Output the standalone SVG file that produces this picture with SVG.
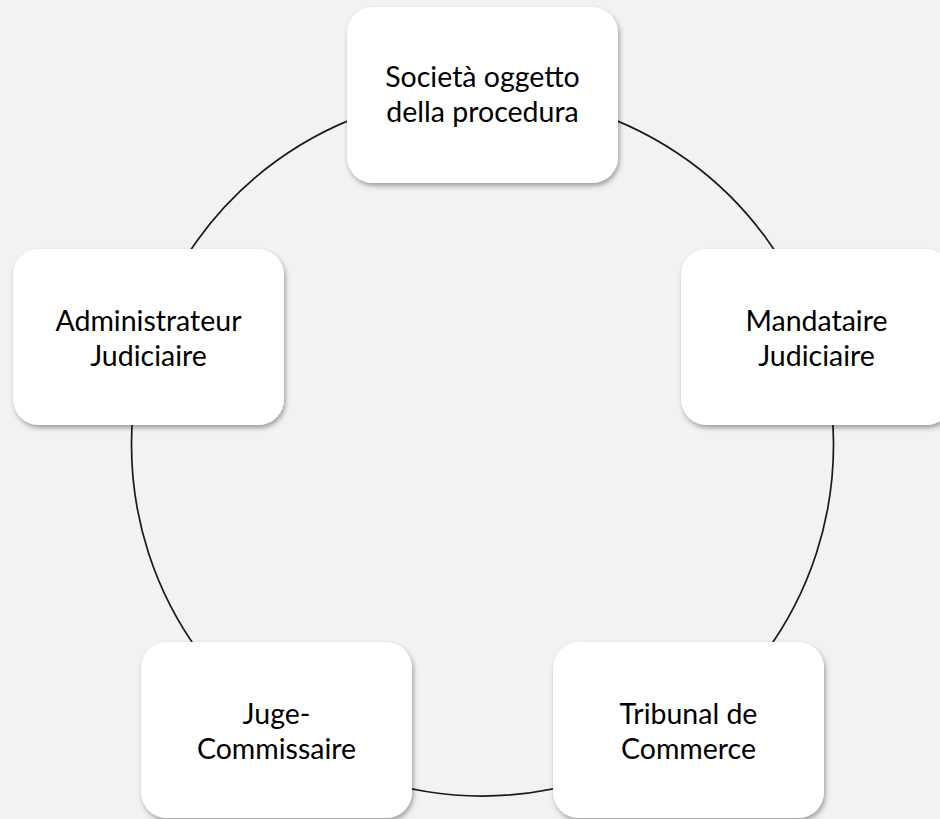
<svg xmlns="http://www.w3.org/2000/svg" width="940" height="819" viewBox="0 0 940 819">
  <defs>
    <filter id="shadow" x="-10%" y="-10%" width="125%" height="130%">
      <feDropShadow dx="1.5" dy="3" stdDeviation="2.5" flood-color="#000" flood-opacity="0.35"/>
    </filter>
  </defs>
  <style>
    .box { fill: #ffffff; filter: url(#shadow); }
    .label { font-family: Lato, "Open Sans", "Liberation Sans", sans-serif; font-size: 28.5px; fill: #000; text-anchor: middle; }
    .arc { fill: none; stroke: #1a1a1a; stroke-width: 1.7; }
  </style>
  <rect width="940" height="819" fill="#f2f2f2"/>

  <!-- cycle arcs, circle centre (482.5,445) r=351 -->
  <g id="connectors">
    <path class="arc" d="M482.5 94 A351 351 0 0 1 816.3 336.5"/>
    <path class="arc" d="M816.3 336.5 A351 351 0 0 1 688.8 729"/>
    <path class="arc" d="M688.8 729 A351 351 0 0 1 276.2 729"/>
    <path class="arc" d="M276.2 729 A351 351 0 0 1 148.7 336.5"/>
    <path class="arc" d="M148.7 336.5 A351 351 0 0 1 482.5 94"/>
  </g>

  <g id="node-societa">
    <rect class="box" x="347" y="7" width="271" height="176" rx="26"/>
    <text class="label"><tspan x="482.5" y="87">Società oggetto</tspan><tspan x="482.5" y="122">della procedura</tspan></text>
  </g>

  <g id="node-mandataire">
    <rect class="box" x="681" y="249" width="271" height="176" rx="26"/>
    <text class="label"><tspan x="816.5" y="331">Mandataire</tspan><tspan x="816.5" y="366">Judiciaire</tspan></text>
  </g>

  <g id="node-tribunal">
    <rect class="box" x="553" y="642" width="271" height="176" rx="26"/>
    <text class="label"><tspan x="688.5" y="724">Tribunal de</tspan><tspan x="688.5" y="759">Commerce</tspan></text>
  </g>

  <g id="node-juge">
    <rect class="box" x="141" y="642" width="271" height="176" rx="26"/>
    <text class="label"><tspan x="276.5" y="724">Juge-</tspan><tspan x="276.5" y="759">Commissaire</tspan></text>
  </g>

  <g id="node-administrateur">
    <rect class="box" x="13" y="249" width="271" height="176" rx="26"/>
    <text class="label"><tspan x="148.5" y="331">Administrateur</tspan><tspan x="148.5" y="366">Judiciaire</tspan></text>
  </g>
</svg>
